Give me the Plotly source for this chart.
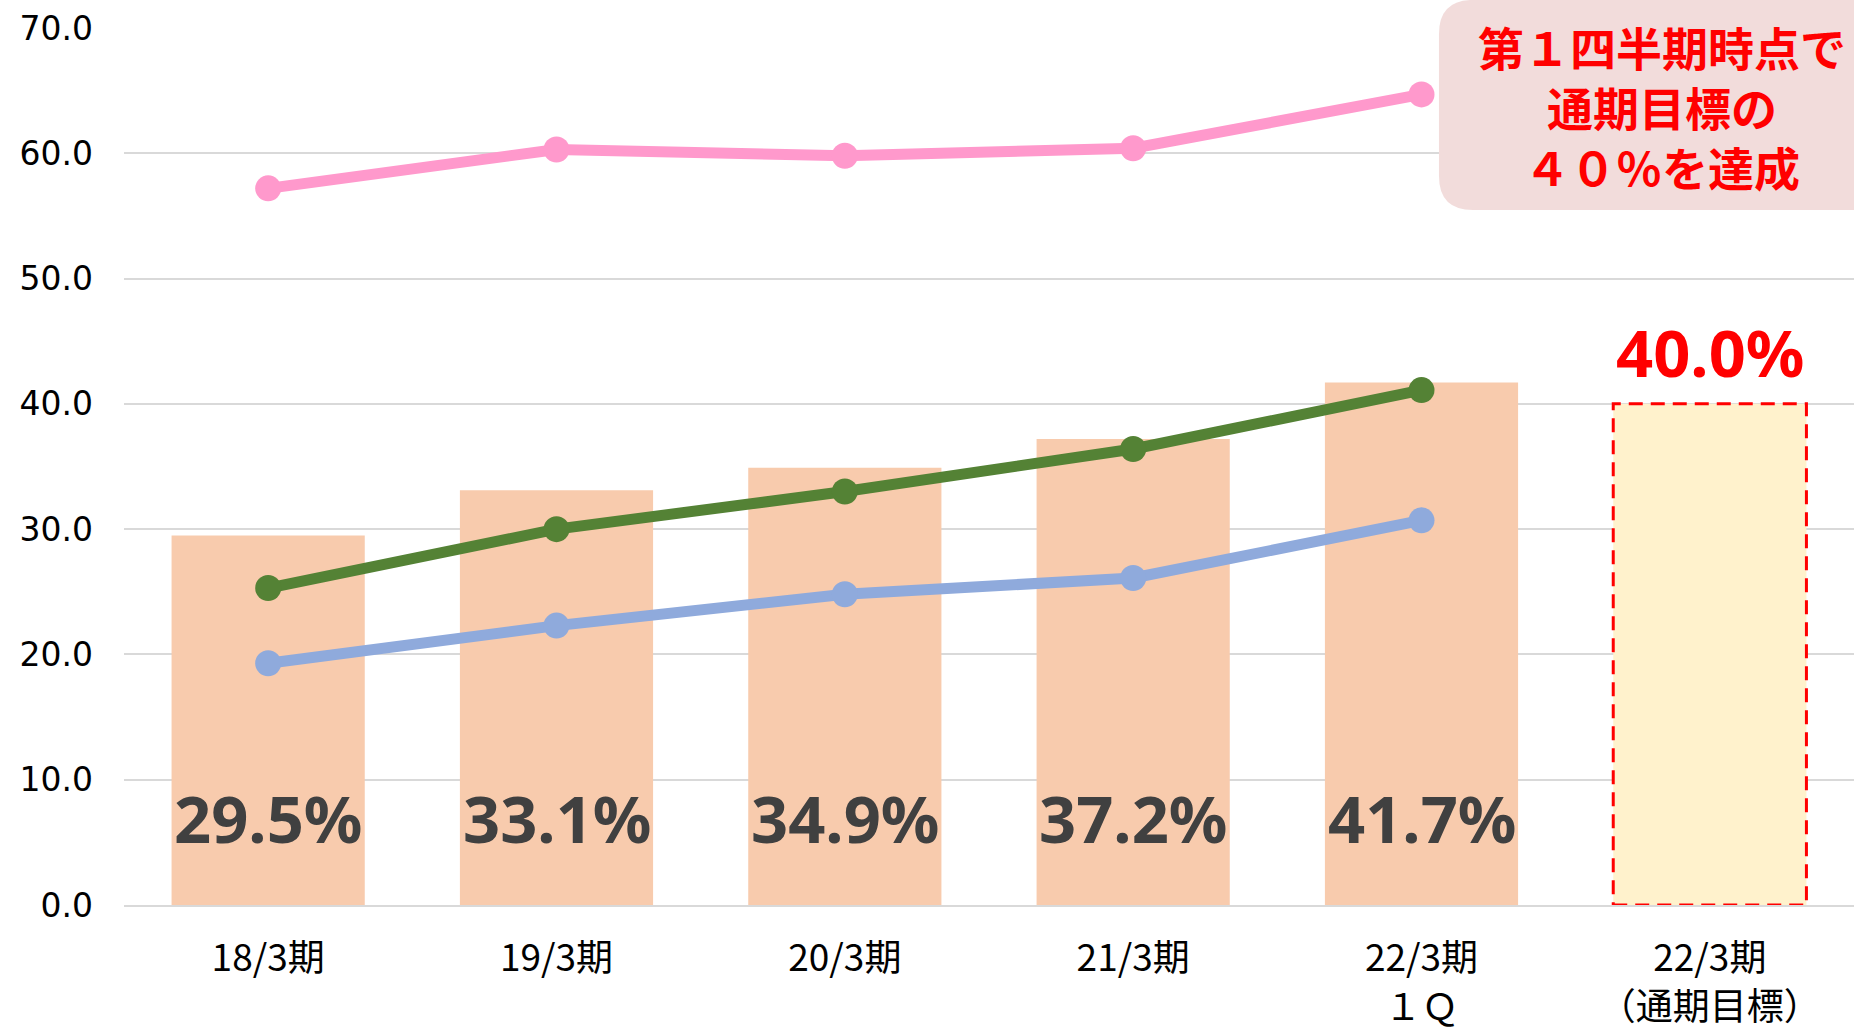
import plotly.graph_objects as go

categories = ["18/3期", "19/3期", "20/3期", "21/3期", "22/3期<br>１Ｑ", "22/3期<br>（通期目標）"]
bar_values = [29.5, 33.1, 34.9, 37.2, 41.7]
target_value = 40.0
pink_values = [57.2, 60.3, 59.8, 60.4, 64.7]
green_values = [25.3, 30.0, 33.0, 36.4, 41.1]
blue_values = [19.3, 22.3, 24.8, 26.1, 30.7]
callout_lines = ["第１四半期時点で", "通期目標の", "４０％を達成"]

BAR_W = 0.67
fig = go.Figure()
fig.add_trace(go.Bar(x=categories[:5], y=bar_values, marker=dict(color="#F8CBAD", line=dict(width=0)),
                     width=BAR_W, hoverinfo="skip"))
fig.add_trace(go.Bar(x=[categories[5]], y=[target_value], marker=dict(color="#FFF2CC", line=dict(width=0)),
                     width=BAR_W, hoverinfo="skip"))
for vals, col in [(pink_values, "#FF99CC"), (green_values, "#548235"), (blue_values, "#8FAADC")]:
    fig.add_trace(go.Scatter(x=categories[:5], y=vals, mode="lines+markers",
                             line=dict(color=col, width=11), marker=dict(color=col, size=26)))

# dashed outline for target bar
ti = len(categories) - 1
fig.add_shape(type="rect", xref="x", yref="y", x0=ti - BAR_W / 2, x1=ti + BAR_W / 2, y0=0, y1=target_value,
              line=dict(color="#FF0000", width=3, dash="14px,8px"), fillcolor="rgba(0,0,0,0)", layer="above")

LABEL_FONT = "Noto Sans"
annotations = []
for c, v in zip(categories[:5], bar_values):
    annotations.append(dict(x=c, y=0, xref="x", yref="y", yshift=87, yanchor="middle",
                            text=f"{v:.1f}%", showarrow=False,
                            font=dict(family=LABEL_FONT, size=65, color="#404040", weight="bold")))
annotations.append(dict(x=categories[5], y=target_value, xref="x", yref="y", yshift=52, yanchor="middle",
                        text=f"{target_value:.1f}%", showarrow=False,
                        font=dict(family=LABEL_FONT, size=65, color="#FF0000", weight="bold")))
annotations.append(dict(x=0.889, y=0.9111, xref="paper", yref="paper", xanchor="center", yanchor="middle",
                        text="<br>".join(callout_lines), showarrow=False, align="center",
                        font=dict(family="Noto Sans CJK JP", size=46, color="#FF0000", weight="bold")))

# callout box (rounded left corners)
x0, x1, yt, yb = 0.7601, 1.03, 1.032, 0.7925
rx, ry = 34 / 1730, 34 / 877
path = (f"M {x0+rx},{yt} L {x1},{yt} L {x1},{yb} L {x0+rx},{yb} Q {x0},{yb} {x0},{yb+ry} "
        f"L {x0},{yt-ry} Q {x0},{yt} {x0+rx},{yt} Z")
fig.add_shape(type="path", xref="paper", yref="paper", path=path, fillcolor="#F2DCDB",
              line=dict(width=0), layer="above")

fig.update_layout(
    width=1854, height=1030,
    margin=dict(l=124, r=0, t=28, b=125),
    plot_bgcolor="white", paper_bgcolor="white",
    showlegend=False, barmode="overlay",
    annotations=annotations,
    xaxis=dict(type="category", showgrid=False, showline=True, linecolor="#D9D9D9", linewidth=2,
               ticks="", ticklabelstandoff=20,
               tickfont=dict(family="Noto Sans CJK JP", size=37, color="#000000")),
    yaxis=dict(range=[0, 70], dtick=10, tickformat=".1f", showgrid=True, gridcolor="#D9D9D9", gridwidth=2,
               zeroline=False, showline=False, ticks="", ticklabelstandoff=30,
               tickfont=dict(family="DejaVu Sans", size=33, color="#000000")),
)
fig.write_html("out.html", config={"displayModeBar": False},
               post_script="document.body.style.margin='0';document.body.style.overflow='hidden';")
